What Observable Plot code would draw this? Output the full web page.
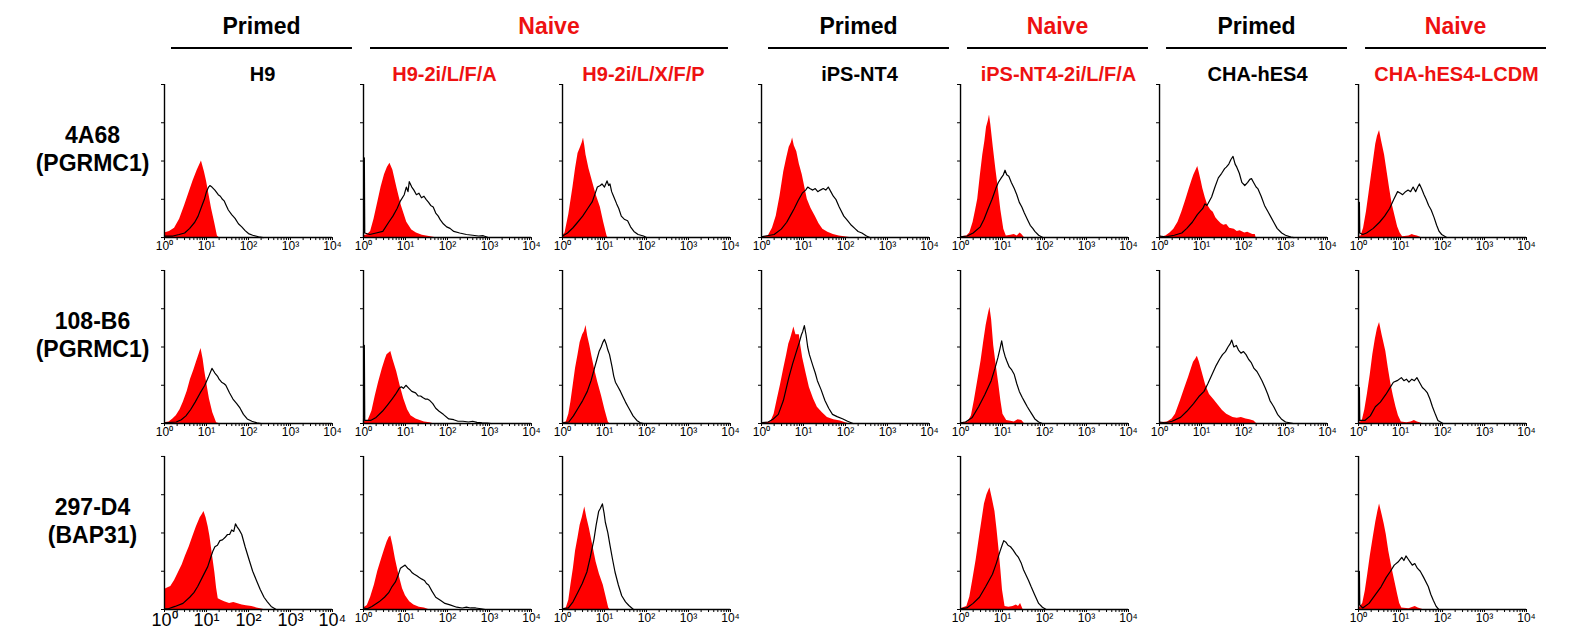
<!DOCTYPE html>
<html>
<head>
<meta charset="utf-8">
<script src="https://cdn.jsdelivr.net/npm/d3@7"></script>
<script src="https://cdn.jsdelivr.net/npm/@observablehq/plot@0.6"></script>
<style>
  html, body { margin: 0; padding: 0; background: #fff; }
  #chart { width: 1586px; }
  #chart svg { display: block; }
</style>
</head>
<body>
<div id="chart"></div>
<script>
// ---------- categories ----------
const columns = ["H9", "H9-2i/L/F/A", "H9-2i/L/X/F/P", "iPS-NT4", "iPS-NT4-2i/L/F/A", "CHA-hES4", "CHA-hES4-LCDM"];
const columnState = ["Primed", "Naive", "Naive", "Primed", "Naive", "Primed", "Naive"];
const rows = ["4A68", "108-B6", "297-D4"];
const rowTargets = ["(PGRMC1)", "(PGRMC1)", "(BAP31)"];
const tickExponents = [0, 1, 2, 3, 4];
const tickSuperscripts = ["\u2070", "\u00b9", "\u00b2", "\u00b3", "\u2074"];

// ---------- histogram values: [log10 fluorescence, % of axis height] ----------
// row 1 : 4A68 (PGRMC1)
const r1c1Red = [[0,3],[0.12,4],[0.24,6],[0.36,12],[0.48,21],[0.58,29],[0.68,37],[0.78,44],[0.88,50],[0.95,43],[1.0,37],[1.06,28],[1.12,19],[1.2,9],[1.26,1],[1.3,0]];
const r1c1Black = [[0,1],[0.2,1],[0.35,2],[0.48,3],[0.6,6],[0.72,10],[0.8,14],[0.88,20],[0.95,25],[1.0,30],[1.05,33],[1.08,34],[1.13,33],[1.2,31],[1.28,28],[1.33,27],[1.38,25],[1.42,24],[1.47,21],[1.52,18],[1.6,15],[1.68,12.5],[1.76,9],[1.84,7],[1.92,4.5],[2.0,2.6],[2.1,1.5],[2.24,0.5],[2.35,0]];
const r1c2Red = [[0,1],[0.1,2],[0.17,4],[0.25,12],[0.34,23],[0.42,33],[0.5,41],[0.57,46],[0.63,48.5],[0.7,44],[0.8,32],[0.9,21],[1.03,10],[1.15,5],[1.26,3],[1.4,1.5],[1.6,0.5],[1.7,0]];
const r1c2Black = [[0,0],[0.02,52],[0.03,3],[0.15,2],[0.3,3],[0.46,4],[0.6,10],[0.7,14],[0.8,19],[0.88,24],[0.97,28],[1.02,33],[1.06,30],[1.09,36.5],[1.15,33],[1.2,31],[1.26,28],[1.32,29],[1.38,26],[1.44,27],[1.49,25],[1.55,23],[1.6,21],[1.66,20],[1.72,16],[1.78,14],[1.83,11.5],[1.9,9],[1.98,7],[2.06,6],[2.15,4],[2.29,3],[2.45,2],[2.6,1.5],[2.74,1],[2.85,1.2],[2.97,0]];
const r1c3Red = [[0,1],[0.06,3],[0.15,15],[0.25,33],[0.31,45],[0.37,55],[0.43,59],[0.47,62],[0.5,65],[0.53,60],[0.56,54],[0.63,45],[0.71,37],[0.8,28],[0.9,20],[0.98,10],[1.06,1],[1.08,0]];
const r1c3Black = [[0,1],[0.12,3],[0.25,6.4],[0.36,10],[0.48,14],[0.6,19],[0.71,23.5],[0.78,29],[0.83,33],[0.9,34],[0.94,35],[1.0,33],[1.06,37],[1.1,34],[1.13,35],[1.17,30],[1.23,26],[1.29,22],[1.34,19],[1.4,14],[1.47,12],[1.55,11],[1.62,7],[1.7,4],[1.8,2],[1.93,1],[2.0,0]];
const r1c4Red = [[0,0.5],[0.16,1],[0.26,6],[0.35,14],[0.44,27],[0.53,43],[0.6,52],[0.66,59],[0.71,62],[0.74,65],[0.78,60],[0.84,56],[0.9,48],[0.97,41],[1.03,33],[1.09,25],[1.18,19],[1.28,14],[1.37,9],[1.46,5.5],[1.58,3.5],[1.71,2],[1.85,1],[2.02,0.4],[2.1,0]];
const r1c4Black = [[0,0.5],[0.1,1],[0.3,2],[0.47,5.5],[0.6,10],[0.7,15],[0.78,19],[0.87,24],[0.97,29],[1.05,31],[1.1,33],[1.15,32],[1.22,31],[1.28,32],[1.34,30],[1.4,31],[1.47,32],[1.53,31],[1.59,33],[1.65,30],[1.71,27],[1.77,25],[1.85,20],[1.96,14],[2.05,11],[2.14,8],[2.22,6],[2.3,4],[2.39,3],[2.5,1],[2.58,0]];
const r1c5Red = [[0,0.5],[0.15,1],[0.22,3],[0.3,10],[0.36,18],[0.41,25],[0.47,40],[0.53,54],[0.58,63],[0.62,72],[0.66,76],[0.69,80],[0.72,74],[0.78,59],[0.84,45],[0.9,32],[0.96,18],[1.03,5.5],[1.09,1],[1.2,1.5],[1.28,2],[1.35,1],[1.42,3],[1.46,2],[1.52,0]];
const r1c5Black = [[0,0.5],[0.16,1],[0.3,3],[0.47,7],[0.56,12],[0.66,19],[0.75,25],[0.84,32],[0.9,36],[0.97,39],[1.02,41],[1.06,44],[1.1,41],[1.15,40],[1.21,36],[1.28,32],[1.34,28],[1.4,23],[1.46,20],[1.52,16],[1.59,12],[1.66,8],[1.72,6],[1.77,4],[1.86,1.5],[1.96,0]];
const r1c6Red = [[0,1],[0.08,0.5],[0.15,1],[0.25,3],[0.34,5.5],[0.44,10],[0.53,16.5],[0.62,24],[0.71,32],[0.78,38],[0.82,41],[0.87,44],[0.91,46.5],[0.95,42],[1.0,36],[1.03,32],[1.09,26],[1.15,21],[1.22,18],[1.28,16.5],[1.34,13],[1.4,11],[1.47,9],[1.53,8],[1.6,8.5],[1.67,6],[1.78,5.5],[1.85,4],[1.92,4.5],[2.03,3],[2.1,3.5],[2.22,2],[2.28,2],[2.3,0]];
const r1c6Black = [[0,1],[0.15,0.5],[0.35,1.5],[0.53,3],[0.65,6],[0.78,10],[0.9,15],[1.03,19],[1.08,22],[1.13,21],[1.24,26.5],[1.32,33],[1.4,39],[1.48,42],[1.55,45],[1.59,46],[1.65,48],[1.7,51],[1.75,53],[1.8,48],[1.84,46],[1.9,42],[1.96,36],[2.03,34],[2.1,36],[2.15,38],[2.19,38.5],[2.24,36],[2.3,33],[2.34,32],[2.42,27],[2.5,21],[2.58,17],[2.66,13],[2.72,10],[2.8,6],[2.91,3],[3.0,1.5],[3.13,0.3],[3.2,0]];
const r1c7Red = [[0,0.5],[0.06,1],[0.12,6],[0.19,17],[0.25,29],[0.31,41],[0.36,51],[0.41,61],[0.45,66],[0.5,70],[0.55,63],[0.62,54],[0.68,43],[0.74,32],[0.8,22],[0.87,14],[0.93,7],[0.99,3],[1.05,0.5],[1.2,1],[1.28,2],[1.32,1.5],[1.4,1],[1.49,0]];
const r1c7Black = [[0,0],[0.02,23],[0.03,3],[0.1,2],[0.19,3],[0.35,6],[0.5,10],[0.62,14],[0.74,19],[0.84,25],[0.93,30],[1.0,29],[1.05,28],[1.12,30],[1.18,31],[1.24,30],[1.3,33],[1.36,30],[1.41,33],[1.45,35],[1.5,32],[1.56,28],[1.61,25],[1.67,21],[1.73,18],[1.8,13],[1.86,8],[1.92,4],[1.98,2],[2.1,0]];

// row 2 : 108-B6 (PGRMC1)
const r2c1Red = [[0,0.5],[0.11,1],[0.2,3],[0.28,5],[0.37,9],[0.45,14],[0.54,21],[0.62,29],[0.7,35],[0.76,40],[0.82,45],[0.87,49],[0.92,42],[0.96,34],[1.02,24],[1.07,16],[1.15,7],[1.24,0.5],[1.3,0]];
const r2c1Black = [[0,0.5],[0.28,1],[0.4,2.5],[0.51,5],[0.62,9],[0.73,14],[0.85,20],[0.96,25],[1.04,30],[1.13,36],[1.2,33],[1.26,31],[1.3,29],[1.36,27],[1.42,26],[1.46,25],[1.55,20],[1.63,16],[1.72,13],[1.8,10],[1.88,6],[1.97,3],[2.08,1.5],[2.2,0.4],[2.3,0]];
const r2c2Red = [[0,1],[0.11,2],[0.2,8],[0.28,18],[0.36,27],[0.45,36],[0.52,42],[0.56,45],[0.61,46],[0.65,47],[0.7,42],[0.79,34],[0.87,25],[0.96,16],[1.05,9],[1.13,5],[1.25,3],[1.35,2],[1.45,1],[1.58,0.5],[1.65,0]];
const r2c2Black = [[0,0],[0.02,51],[0.03,2],[0.17,2],[0.3,4],[0.45,8],[0.57,12],[0.68,16],[0.76,19],[0.85,23],[0.9,24],[0.95,23],[1.01,25],[1.08,23],[1.15,21],[1.24,20],[1.3,18],[1.36,18],[1.41,17],[1.47,16],[1.52,16],[1.58,15],[1.65,13],[1.72,10],[1.8,8],[1.9,6],[2.03,3],[2.15,2.5],[2.25,1.5],[2.37,1.5],[2.5,1],[2.6,1.5],[2.7,0.8],[2.82,0.5],[2.95,0.3],[3.04,0]];
const r2c3Red = [[0,0.5],[0.09,1],[0.15,6],[0.2,14],[0.26,26],[0.31,36],[0.37,45],[0.42,53],[0.48,58],[0.52,60],[0.56,64],[0.6,57],[0.65,51],[0.7,44],[0.76,36],[0.84,27],[0.93,18],[1.01,9],[1.09,1],[1.12,0]];
const r2c3Black = [[0,0.5],[0.15,1],[0.26,5],[0.37,10],[0.48,15],[0.59,21],[0.68,28],[0.76,36],[0.82,42],[0.87,47],[0.92,50],[0.96,53],[1.0,55],[1.04,52],[1.08,48],[1.12,45],[1.18,37],[1.22,31],[1.26,27],[1.32,24],[1.38,21],[1.43,18],[1.5,14],[1.56,11],[1.6,9],[1.68,5],[1.77,2],[1.85,0.5],[1.93,0]];
const r2c4Red = [[0,0.5],[0.22,1],[0.3,6],[0.37,15],[0.45,25],[0.53,36],[0.6,45],[0.65,52],[0.69,55],[0.74,60],[0.77,63],[0.82,58],[0.9,58],[0.94,50],[0.98,43],[1.06,33],[1.14,23.5],[1.24,16],[1.33,10.7],[1.45,7],[1.57,4],[1.72,2.5],[1.88,1.7],[2.0,0.5],[2.06,0]];
const r2c4Black = [[0,0.5],[0.16,1],[0.28,3],[0.4,6],[0.52,15],[0.65,30],[0.74,39],[0.83,47],[0.9,53],[0.95,58],[0.98,60],[1.02,64],[1.06,58],[1.1,50],[1.14,45],[1.22,38],[1.28,33],[1.33,28],[1.42,22],[1.51,15],[1.6,10],[1.69,6],[1.8,4.5],[1.94,3],[2.05,1.5],[2.18,0]];
const r2c5Red = [[0,0.5],[0.18,1],[0.26,5],[0.33,15],[0.41,28],[0.49,41],[0.55,53],[0.61,64],[0.66,71],[0.7,76],[0.74,68],[0.79,51],[0.85,38],[0.91,26],[0.96,15],[1.01,6],[1.1,2],[1.2,1.5],[1.28,1],[1.37,2.5],[1.46,2],[1.52,0]];
const r2c5Black = [[0,0.5],[0.12,1],[0.28,4],[0.43,11],[0.58,19],[0.73,28],[0.82,36],[0.89,43],[0.94,49],[0.98,54],[1.02,48],[1.06,44],[1.1,41],[1.16,37],[1.22,35],[1.28,32],[1.34,26],[1.4,21],[1.47,17],[1.53,14],[1.59,11],[1.68,7],[1.77,3],[1.86,1],[1.95,0]];
const r2c6Red = [[0,0.5],[0.19,1],[0.3,3],[0.38,6],[0.5,15],[0.6,23],[0.69,30],[0.76,36],[0.81,40],[0.86,42],[0.9,44],[0.95,40],[1.03,32],[1.1,25],[1.19,19],[1.25,17],[1.31,15],[1.4,12],[1.5,8.5],[1.6,6],[1.75,4],[1.85,3.5],[1.95,4],[2.06,3],[2.15,2.5],[2.25,1.7],[2.31,0]];
const r2c6Black = [[0,1],[0.13,0.5],[0.3,1.5],[0.5,4],[0.65,8],[0.81,13],[0.95,18],[1.06,21],[1.15,26],[1.25,32],[1.35,38],[1.43,42],[1.5,45],[1.57,47],[1.63,50],[1.68,52],[1.72,54.5],[1.77,50],[1.83,51],[1.88,48],[1.94,46],[2.0,47],[2.06,45],[2.12,42],[2.18,40],[2.25,36],[2.32,34],[2.38,31],[2.44,28],[2.52,23],[2.58,19],[2.63,15],[2.72,11],[2.81,6],[2.9,3],[3.0,1],[3.19,0]];
const r2c7Red = [[0,0.5],[0.05,1],[0.09,2],[0.15,9],[0.21,19],[0.28,32],[0.34,45],[0.4,55],[0.45,62],[0.5,66],[0.56,58],[0.65,47],[0.71,36],[0.77,26],[0.83,18],[0.89,11],[0.95,5],[1.02,1],[1.15,0.5],[1.25,1],[1.33,2],[1.4,1],[1.52,0]];
const r2c7Black = [[0,0],[0.02,23.5],[0.03,2],[0.15,2],[0.28,5],[0.4,11],[0.52,14],[0.65,19],[0.74,23],[0.83,27],[0.92,28],[1.02,30],[1.08,28],[1.14,29],[1.2,27],[1.27,29],[1.33,28],[1.39,30],[1.45,27],[1.52,23.5],[1.58,22],[1.64,20],[1.7,16],[1.76,11],[1.83,6],[1.89,2],[2.01,0]];

// row 3 : 297-D4 (BAP31)
const r3c1Red = [[0,13],[0.07,14],[0.15,15],[0.24,19],[0.33,24],[0.42,29],[0.5,35],[0.59,41],[0.68,48],[0.76,54],[0.85,60],[0.9,62],[0.94,64],[0.99,60],[1.04,54],[1.08,48],[1.14,36],[1.2,24],[1.24,14],[1.28,7],[1.35,6],[1.43,5],[1.55,4],[1.65,4.5],[1.73,4],[1.85,3],[1.95,2.5],[2.08,2],[2.2,1],[2.37,0]];
const r3c1Black = [[0,0.5],[0.09,0.5],[0.25,2],[0.44,4],[0.6,8],[0.7,11],[0.79,15],[0.9,21],[1.03,28],[1.1,34],[1.15,38],[1.2,41],[1.26,42],[1.32,45],[1.38,45.5],[1.44,47],[1.5,49],[1.55,49],[1.6,52],[1.65,51],[1.69,56],[1.73,54],[1.78,52],[1.84,49],[1.92,41],[2.02,32],[2.1,25],[2.19,19],[2.28,13],[2.37,8],[2.45,5],[2.54,2],[2.66,0]];
const r3c2Red = [[0,1],[0.09,2.6],[0.17,8],[0.26,16],[0.34,25],[0.43,33],[0.5,39],[0.56,44],[0.61,47],[0.65,48],[0.7,42],[0.76,33],[0.84,23],[0.93,13.5],[1.0,9],[1.1,5],[1.2,3],[1.33,1.5],[1.45,1],[1.55,0]];
const r3c2Black = [[0,1],[0.09,0.5],[0.2,2],[0.37,5],[0.5,8],[0.6,11],[0.68,15],[0.76,18],[0.82,22],[0.88,27],[0.93,28],[0.99,29],[1.05,27],[1.1,26],[1.16,24],[1.21,23],[1.27,22],[1.32,21],[1.38,20],[1.45,19],[1.5,17],[1.55,16],[1.63,12],[1.72,8],[1.83,6],[1.94,4],[2.06,3],[2.22,1.5],[2.35,1],[2.45,1.5],[2.55,1],[2.67,1],[2.8,0.5],[2.9,0]];
const r3c3Red = [[0,0.5],[0.09,1],[0.15,6],[0.2,16],[0.26,27],[0.31,38],[0.37,47],[0.42,55],[0.47,60],[0.53,67],[0.58,60],[0.64,53],[0.72,42],[0.8,31],[0.88,23],[0.97,16],[1.04,8],[1.1,1],[1.13,0]];
const r3c3Black = [[0,0.5],[0.14,1],[0.25,5],[0.36,11],[0.47,17],[0.58,24.5],[0.66,34],[0.75,46],[0.8,55],[0.86,64],[0.9,66],[0.95,69],[0.99,63],[1.02,57],[1.08,50],[1.13,42],[1.19,33],[1.25,24.5],[1.33,16],[1.41,9],[1.5,5],[1.58,2.6],[1.69,0]];
const r3c5Red = [[0,0.5],[0.15,2],[0.22,8],[0.29,19],[0.37,32],[0.45,47],[0.51,58],[0.57,69],[0.63,75],[0.7,79.5],[0.76,72],[0.82,64],[0.87,52],[0.91,41],[0.96,26],[1.0,12.5],[1.06,2],[1.15,1.5],[1.25,2],[1.33,3],[1.38,2],[1.43,4],[1.49,0]];
const r3c5Black = [[0,0.5],[0.15,1],[0.3,4],[0.45,8],[0.6,15],[0.76,23],[0.85,30],[0.94,38],[0.99,42],[1.03,45],[1.08,44],[1.13,42],[1.19,41],[1.25,39],[1.32,36],[1.38,34],[1.45,30],[1.5,26],[1.55,23],[1.62,19],[1.68,15],[1.76,10],[1.86,4],[1.95,1.5],[2.04,0]];
const r3c7Red = [[0,0.5],[0.05,2],[0.1,4],[0.16,12],[0.22,23],[0.28,35],[0.35,47],[0.41,57],[0.46,64],[0.5,69],[0.56,62],[0.61,56],[0.66,49],[0.72,38],[0.79,28],[0.86,19],[0.93,10],[0.98,4],[1.03,1],[1.2,0.5],[1.3,1.5],[1.35,2],[1.42,1],[1.53,0]];
const r3c7Black = [[0,0],[0.02,25],[0.03,3],[0.1,1],[0.25,4],[0.41,10],[0.54,15],[0.66,21],[0.76,25],[0.85,29],[0.94,31],[1.03,34],[1.08,32],[1.13,35],[1.18,33],[1.23,31],[1.28,29],[1.34,30],[1.4,27],[1.47,25],[1.55,21],[1.66,15],[1.72,10],[1.78,6],[1.85,2],[1.91,0]];

// panel table: [row index, column index, isotype (red), antibody (black)]
const panelList = [
  [0,0,r1c1Red,r1c1Black],[0,1,r1c2Red,r1c2Black],[0,2,r1c3Red,r1c3Black],[0,3,r1c4Red,r1c4Black],
  [0,4,r1c5Red,r1c5Black],[0,5,r1c6Red,r1c6Black],[0,6,r1c7Red,r1c7Black],
  [1,0,r2c1Red,r2c1Black],[1,1,r2c2Red,r2c2Black],[1,2,r2c3Red,r2c3Black],[1,3,r2c4Red,r2c4Black],
  [1,4,r2c5Red,r2c5Black],[1,5,r2c6Red,r2c6Black],[1,6,r2c7Red,r2c7Black],
  [2,0,r3c1Red,r3c1Black],[2,1,r3c2Red,r3c2Black],[2,2,r3c3Red,r3c3Black],
  [2,4,r3c5Red,r3c5Black],[2,6,r3c7Red,r3c7Black]
];

// ---------- derived tables ----------
const RED = "#ff0000";
const TEXT_RED = "#ee1111";
const FONT = "'Liberation Sans', Arial, Helvetica, sans-serif";

const panels = panelList.map(([r, c, red, black]) => ({row: rows[r], col: columns[c], red, black, big: r === 2 && c === 0}));
const redPts = panels.flatMap(p => p.red.map(([lx, pct]) => ({row: p.row, col: p.col, lx, pct})));
const blackPts = panels.flatMap(p => p.black.map(([lx, pct]) => ({row: p.row, col: p.col, lx, pct})));
const tickLabels = panels.flatMap(p => tickExponents.map(e => ({
  row: p.row, col: p.col, value: 10 ** e, label: "10" + tickSuperscripts[e], big: p.big
})));
const minorTicks = tickExponents.flatMap(e => e < 4 ? d3.range(1, 10).map(k => k * 10 ** e) : [10 ** e]);
const rowLabels = rows.map((r, i) => ({row: r, col: columns[0], label: r + "\n" + rowTargets[i]}));

// groups of consecutive columns with the same state
const groups = [];
columnState.forEach((s, i) => {
  const last = groups[groups.length - 1];
  if (last && last.label === s) last.to = i;
  else groups.push({label: s, from: i, to: i});
});
const colInfo = columns.map((c, i) => {
  const g = groups.find(g => g.from <= i && i <= g.to);
  return {name: c, index: i, state: columnState[i], single: g.from === g.to};
});
const stateColor = s => s === "Naive" ? TEXT_RED : "#000";

// ---------- layout ----------
const W = 1586, ML = 164, MR = 60, PAD = 0.156;
const BW = 1 - PAD;               // band width in column units
const nCols = columns.length;

const header = Plot.plot({
  width: W, height: 78,
  marginLeft: ML, marginRight: MR, marginTop: 0, marginBottom: 0,
  x: {domain: [0, nCols - PAD], axis: null},
  y: {domain: [0, 1], range: [0, 78], axis: null},
  color: {type: "identity"},
  style: {overflow: "visible", fontFamily: FONT, background: "transparent"},
  marks: [
    Plot.ruleY(groups.filter(g => g.from === g.to), {
      x1: d => d.from, x2: d => d.to + BW, y: () => 0, dy: 47.5,
      insetLeft: 7, insetRight: -20, stroke: "#000", strokeWidth: 2
    }),
    Plot.ruleY(groups.filter(g => g.from !== g.to), {
      x1: d => d.from, x2: d => d.to + BW, y: () => 0, dy: 47.5,
      insetLeft: 7, insetRight: 2, stroke: "#000", strokeWidth: 2
    }),
    Plot.text(groups.filter(g => g.from === g.to), {
      x: d => (d.from + d.to + BW) / 2, text: "label", frameAnchor: "top", dy: 33, dx: 13,
      lineAnchor: "bottom", fill: d => stateColor(d.label), fontSize: 23, fontWeight: "bold"
    }),
    Plot.text(groups.filter(g => g.from !== g.to), {
      x: d => (d.from + d.to + BW) / 2, text: "label", frameAnchor: "top", dy: 33, dx: 2,
      lineAnchor: "bottom", fill: d => stateColor(d.label), fontSize: 23, fontWeight: "bold"
    }),
    Plot.text(colInfo.filter(c => c.single), {
      x: d => d.index + BW / 2, text: "name", frameAnchor: "top", dy: 80, dx: 14,
      lineAnchor: "bottom", fill: d => stateColor(d.state), fontSize: 20, fontWeight: "bold"
    }),
    Plot.text(colInfo.filter(c => !c.single), {
      x: d => d.index + BW / 2, text: "name", frameAnchor: "top", dy: 80, dx: -3,
      lineAnchor: "bottom", fill: d => stateColor(d.state), fontSize: 20, fontWeight: "bold"
    })
  ]
});

const main = Plot.plot({
  width: W, height: 556,
  marginLeft: ML, marginRight: MR, marginTop: 6, marginBottom: 25,
  facet: {marginTop: 0, marginRight: 0, marginBottom: 0, marginLeft: 0},
  fx: {domain: columns, paddingInner: PAD, paddingOuter: 0, round: false, axis: null},
  fy: {domain: rows, paddingInner: 0.177, paddingOuter: 0, round: false, axis: null},
  x: {type: "log", domain: [1, 1e4]},
  y: {domain: [0, 100]},
  color: {type: "identity"},
  style: {overflow: "visible", fontFamily: FONT, background: "transparent"},
  marks: [
    Plot.areaY(redPts, {x: d => 10 ** d.lx, y: "pct", fx: "col", fy: "row", fill: RED, curve: "linear"}),
    Plot.ruleX([1], {stroke: "#000", strokeWidth: 1.4}),
    Plot.ruleY([0], {stroke: "#000", strokeWidth: 1.4}),
    Plot.axisX({ticks: minorTicks, tickSize: 3, fill: "none", facetAnchor: null, label: null, stroke: "#000"}),
    Plot.axisY({ticks: [0, 25, 50, 75, 100], tickSize: 3, fill: "none", facetAnchor: null, label: null, stroke: "#000"}),
    Plot.lineY(blackPts, {x: d => 10 ** d.lx, y: "pct", fx: "col", fy: "row", stroke: "#000", strokeWidth: 1.2, curve: "linear"}),
    Plot.text(tickLabels, {
      x: "value", fx: "col", fy: "row", text: "label", frameAnchor: "bottom",
      dy: 4, lineAnchor: "top", fontSize: d => d.big ? 18 : 12, fill: "#000"
    }),
    Plot.text(rowLabels, {
      fx: "col", fy: "row", text: "label", frameAnchor: "left", dx: -72, dy: -13,
      textAnchor: "middle", lineAnchor: "middle", lineHeight: 1.2,
      fontSize: 23, fontWeight: "bold", fill: "#000"
    })
  ]
});

const chart = document.getElementById("chart");
chart.appendChild(header);
chart.appendChild(main);
</script>
</body>
</html>
